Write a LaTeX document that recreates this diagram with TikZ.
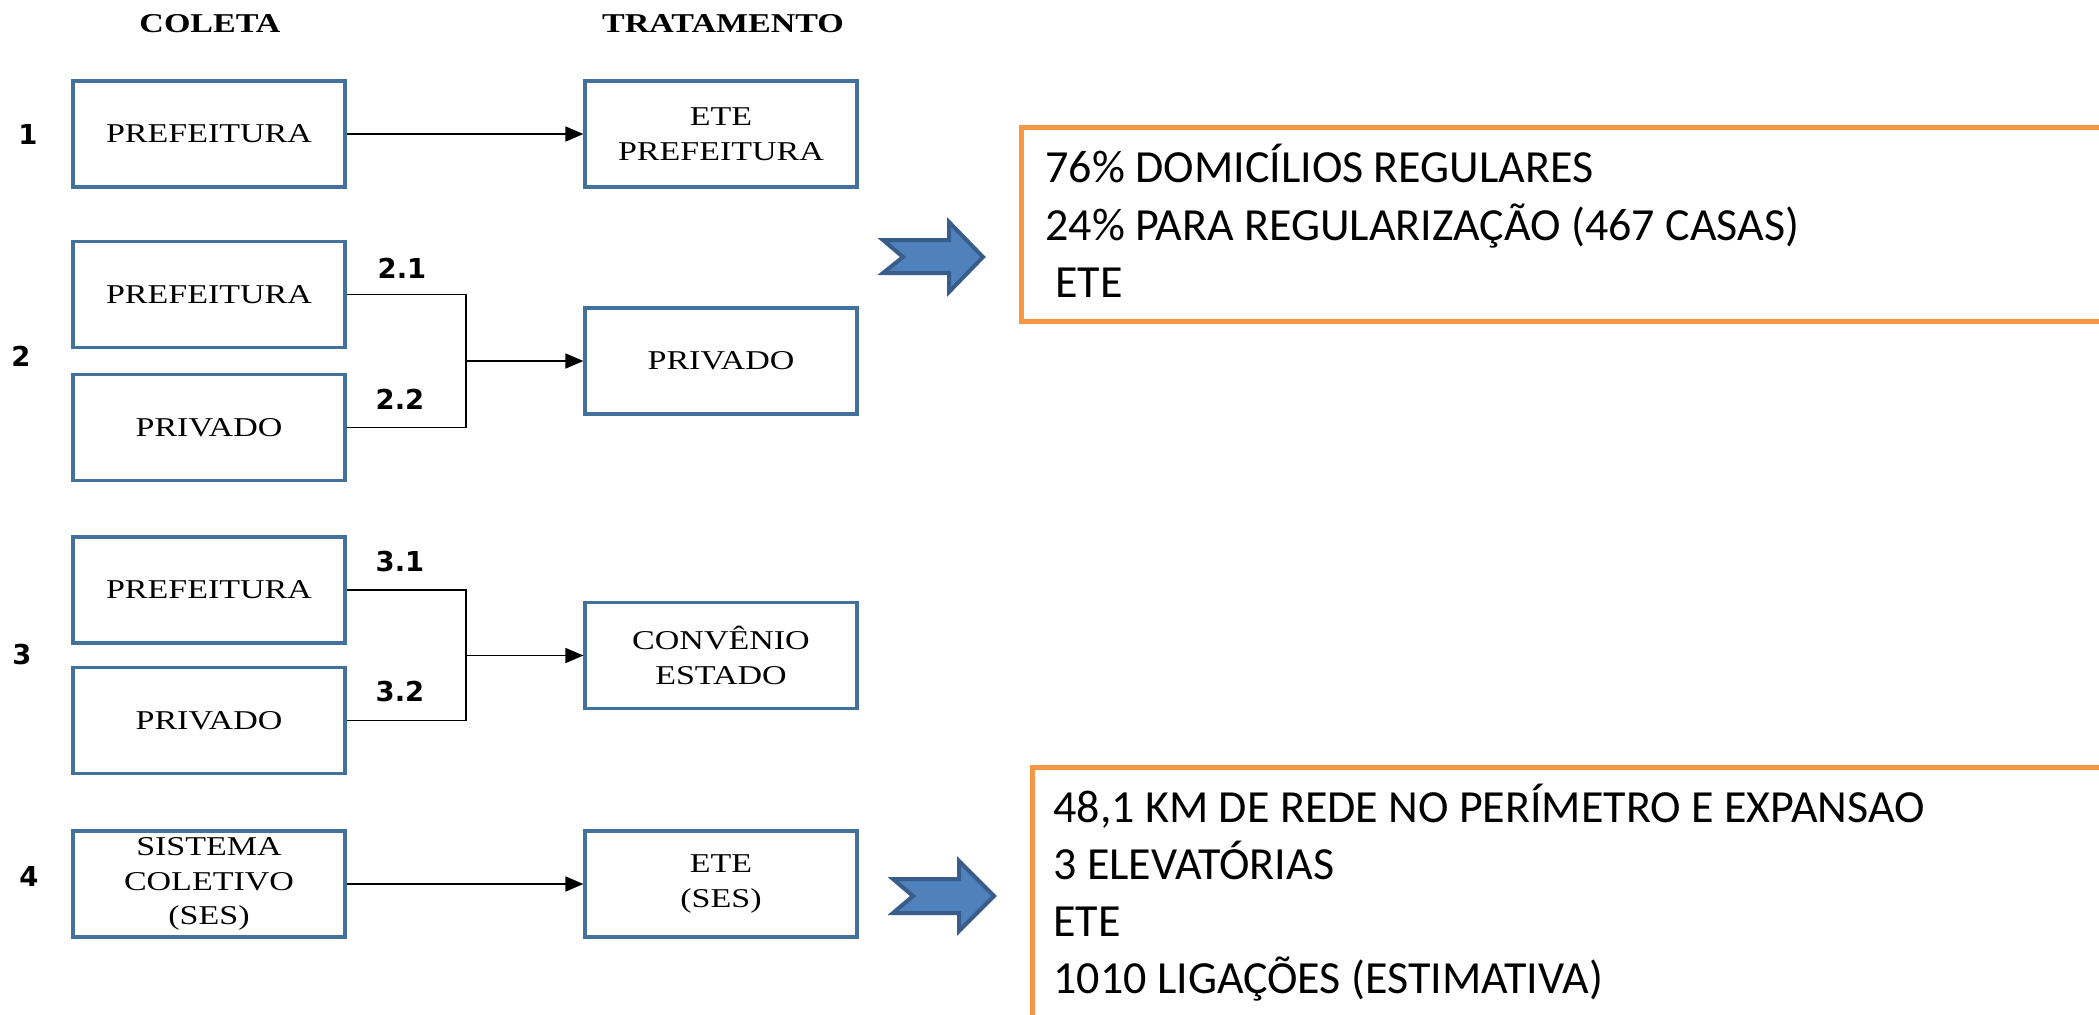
\documentclass[tikz,border=0pt]{standalone}
\usepackage{fontspec}
\setmainfont{Liberation Serif}
\newfontfamily\boxfont[FakeStretch=1.25]{Liberation Serif}
\newfontfamily\numfont{DejaVu Sans}
\newfontfamily\calfont{Carlito}
\usetikzlibrary{arrows.meta}
\definecolor{boxblue}{RGB}{65,113,156}
\definecolor{chevfill}{RGB}{79,129,189}
\definecolor{chevline}{RGB}{56,93,138}
\definecolor{orangeln}{RGB}{247,150,70}
\begin{document}
\begin{tikzpicture}[x=0.5pt,y=-0.5pt,
  flowbox/.style={draw=boxblue,line width=1.6pt,minimum width=136pt,minimum height=53pt,inner sep=0pt,align=center,font=\boxfont\fontsize{13.6}{17.25}\selectfont},
  head/.style={font=\boxfont\bfseries\fontsize{13.6}{16}\selectfont},
  numlab/.style={font=\numfont\bfseries\fontsize{13.7}{16}\selectfont},
  conn/.style={line width=0.8pt,black},
  conarrow/.style={conn,-{Triangle[length=9pt,width=7.5pt]}},
  chevron/.style={fill=chevfill,draw=chevline,line width=2pt,line join=miter},
  infoframe/.style={draw=orangeln,line width=2.5pt},
  infotext/.style={font=\calfont\fontsize{23}{28}\selectfont,anchor=base west,inner sep=0pt}
]
\useasboundingbox[fill=white] (0,0) rectangle (2099,1014);

% headers
\node[head] (hcol) at (210,24) {COLETA};
\node[head] (htrat) at (723,24) {TRATAMENTO};

% boxes
\node[flowbox] (b1) at (209,134) {PREFEITURA};
\node[flowbox] (e1) at (721,134) {ETE\\PREFEITURA};
\node[flowbox] (b21) at (209,294.5) {PREFEITURA};
\node[flowbox] (b22) at (209,427.5) {PRIVADO};
\node[flowbox] (e2) at (721,361) {PRIVADO};
\node[flowbox] (b31) at (209,590) {PREFEITURA};
\node[flowbox] (b32) at (209,720.5) {PRIVADO};
\node[flowbox] (e3) at (721,655.5) {CONVÊNIO\\ESTADO};
\node[flowbox] (b4) at (209,884) {SISTEMA\\COLETIVO\\(SES)};
\node[flowbox] (e4) at (721,884) {ETE\\(SES)};

% row numbers
\node[numlab] (n1) at (28,135) {1};
\node[numlab] (n2) at (21,356) {2};
\node[numlab] (n3) at (22,655) {3};
\node[numlab] (n4) at (29,876) {4};
\node[numlab] (n21) at (402,268) {2.1};
\node[numlab] (n22) at (400,399) {2.2};
\node[numlab] (n31) at (400,562) {3.1};
\node[numlab] (n32) at (400,692) {3.2};

% connectors
\draw[conarrow] (b1) -- (e1);
\coordinate (j2) at (466,361);
\draw[conn] (b21.east) -| (j2);
\draw[conn] (b22.east) -| (j2);
\draw[conarrow] (j2) -- (e2.west);
\coordinate (j3) at (466,655.5);
\draw[conn] (b31.east) -| (j3);
\draw[conn] (b32.east) -| (j3);
\draw[conarrow] (j3) -- (e3.west);
\draw[conarrow] (b4) -- (e4);

% chevrons
\draw[chevron] (883,240) -- (949,240) -- (949,222) -- (983,257) -- (949,292) -- (949,273) -- (883,273) -- (903,257) -- cycle;
\draw[chevron] (893,879) -- (959,879) -- (959,861) -- (994,896) -- (959,931) -- (959,913) -- (893,913) -- (913,896) -- cycle;

% orange frames
\draw[infoframe] (2120,127) -- (1021,127) -- (1021,321) -- (2120,321);
\draw[infoframe] (2120,767) -- (1032,767) -- (1032,1030);

% info texts
\node[infotext] (t11) at (1045,182) {76\% DOMICÍLIOS REGULARES};
\node[infotext] (t12) at (1045,240) {24\% PARA REGULARIZAÇÃO (467 CASAS)};
\node[infotext] (t13) at (1055,297) {ETE};
\node[infotext] (t21) at (1053,822) {48,1 KM DE REDE NO PERÍMETRO E EXPANSAO};
\node[infotext] (t22) at (1053,879) {3 ELEVATÓRIAS};
\node[infotext] (t23) at (1053,936) {ETE};
\node[infotext] (t24) at (1053,993) {1010 LIGAÇÕES (ESTIMATIVA)};
\end{tikzpicture}
\end{document}
